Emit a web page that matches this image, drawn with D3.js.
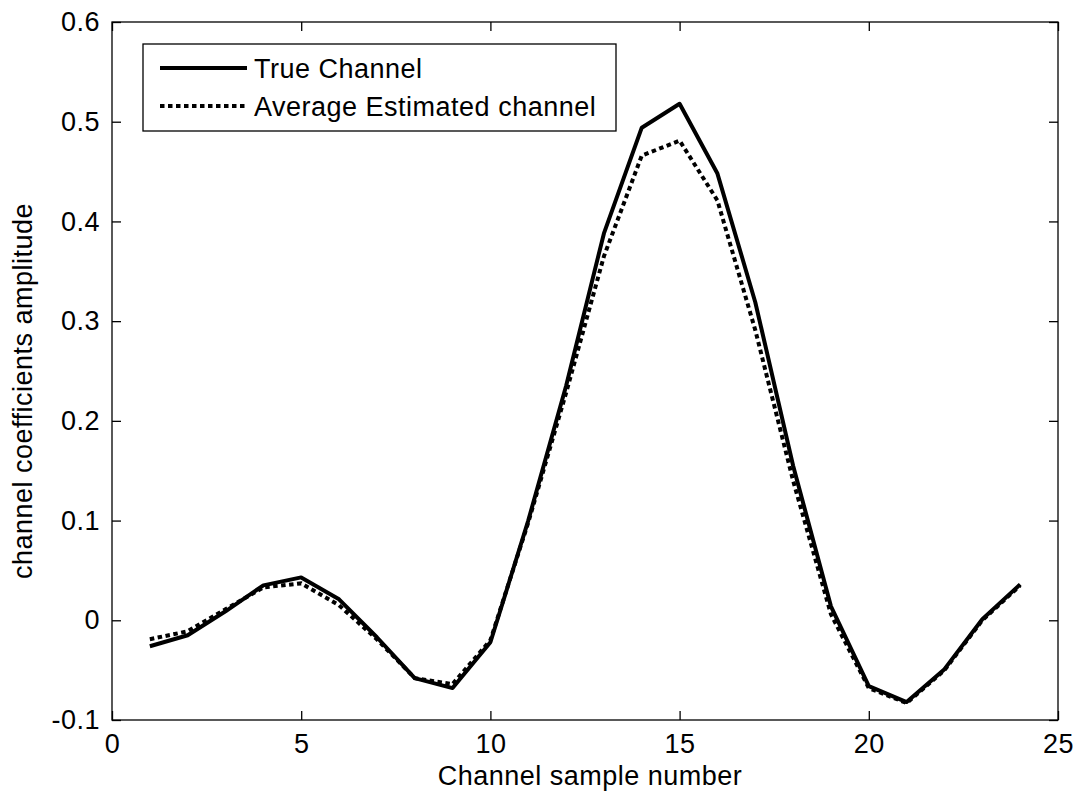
<!DOCTYPE html>
<html>
<head>
<meta charset="utf-8">
<script src="https://cdn.jsdelivr.net/npm/d3@7"></script>
<style>
  html, body { margin: 0; padding: 0; background: #fff; }
  svg { display: block; font-family: "Liberation Sans", Arial, sans-serif; }
</style>
</head>
<body>
<svg id="chart" width="1078" height="793"></svg>
<script>
const samples = [1,2,3,4,5,6,7,8,9,10,11,12,13,14,15,16,17,18,19,20,21,22,23,24];
const trueChannel = [-0.026, -0.015, 0.009, 0.035, 0.043, 0.021, -0.017, -0.058, -0.068, -0.022, 0.100, 0.235, 0.388, 0.494, 0.518, 0.448, 0.319, 0.155, 0.014, -0.066, -0.082, -0.049, 0.001, 0.036];
const estChannel  = [-0.019, -0.011, 0.011, 0.033, 0.037, 0.015, -0.019, -0.058, -0.064, -0.020, 0.098, 0.228, 0.365, 0.466, 0.481, 0.421, 0.291, 0.140, 0.006, -0.068, -0.083, -0.050, 0.000, 0.035];
const xTicks = [0, 5, 10, 15, 20, 25];
const yTicks = [-0.1, 0, 0.1, 0.2, 0.3, 0.4, 0.5, 0.6];
const yTickLabels = ["-0.1", "0", "0.1", "0.2", "0.3", "0.4", "0.5", "0.6"];
const seriesNames = ["True Channel", "Average Estimated channel"];
const xLabel = "Channel sample number";
const yLabel = "channel coefficients amplitude";

const svg = d3.select("#chart");
const m = {left: 112, right: 1058, top: 22, bottom: 720};
const x = d3.scaleLinear().domain([0, 25]).range([m.left, m.right]);
const y = d3.scaleLinear().domain([-0.1, 0.6]).range([m.bottom, m.top]);
const fs = 27;
const ls = "0.5px";
const tickLen = 9;

// axes box
svg.append("rect").attr("x", m.left).attr("y", m.top)
  .attr("width", m.right - m.left).attr("height", m.bottom - m.top)
  .attr("fill", "none").attr("stroke", "#000").attr("stroke-width", 1.3);

const fmtY = (d, i) => yTickLabels[i];

// bottom axis
const gx = svg.append("g").attr("transform", `translate(0,${m.bottom})`)
  .call(d3.axisBottom(x).tickValues(xTicks).tickSize(-tickLen).tickPadding(14).tickFormat(d3.format("d")));
// top axis (ticks only)
const gxt = svg.append("g").attr("transform", `translate(0,${m.top})`)
  .call(d3.axisTop(x).tickValues(xTicks).tickSize(-tickLen).tickFormat(""));
// left axis
const gy = svg.append("g").attr("transform", `translate(${m.left},0)`)
  .call(d3.axisLeft(y).tickValues(yTicks).tickSize(-tickLen).tickPadding(12).tickFormat(fmtY));
// right axis (ticks only)
const gyr = svg.append("g").attr("transform", `translate(${m.right},0)`)
  .call(d3.axisRight(y).tickValues(yTicks).tickSize(-tickLen).tickFormat(""));

[gx, gxt, gy, gyr].forEach(g => {
  g.select(".domain").remove();
  g.selectAll(".tick line").attr("stroke", "#000").attr("stroke-width", 1.3);
  g.selectAll(".tick text").attr("fill", "#000").style("font-size", fs + "px")
    .style("letter-spacing", ls)
    .style("font-family", '"Liberation Sans", Arial, sans-serif');
});

// lines
const line = d3.line().x((d, i) => x(samples[i])).y(d => y(d));
svg.append("path").datum(trueChannel).attr("d", line)
  .attr("fill", "none").attr("stroke", "#000").attr("stroke-width", 4).attr("stroke-linejoin", "round");
svg.append("path").datum(estChannel).attr("d", line)
  .attr("fill", "none").attr("stroke", "#000").attr("stroke-width", 4).attr("stroke-dasharray", "4.5,3.5");

// axis labels
svg.append("text").attr("x", (m.left + m.right) / 2 + 5).attr("y", 785)
  .attr("text-anchor", "middle").style("font-size", fs + "px").style("letter-spacing", ls).text(xLabel);
svg.append("text").attr("transform", `translate(32,${(m.top + m.bottom) / 2 + 20}) rotate(-90)`)
  .attr("text-anchor", "middle").style("font-size", fs + "px").style("letter-spacing", ls).text(yLabel);

// legend
const lg = svg.append("g");
lg.append("rect").attr("x", 143).attr("y", 44).attr("width", 473).attr("height", 87)
  .attr("fill", "#fff").attr("stroke", "#000").attr("stroke-width", 1.3);
const legY = [68, 106];
lg.append("line").attr("x1", 160).attr("x2", 247).attr("y1", legY[0]).attr("y2", legY[0])
  .attr("stroke", "#000").attr("stroke-width", 4);
lg.append("line").attr("x1", 160).attr("x2", 247).attr("y1", legY[1]).attr("y2", legY[1])
  .attr("stroke", "#000").attr("stroke-width", 4).attr("stroke-dasharray", "4.5,3.5");
seriesNames.forEach((n, i) => {
  lg.append("text").attr("x", 254).attr("y", legY[i] + 10).style("font-size", fs + "px")
    .style("letter-spacing", ls).text(n);
});
</script>
</body>
</html>
